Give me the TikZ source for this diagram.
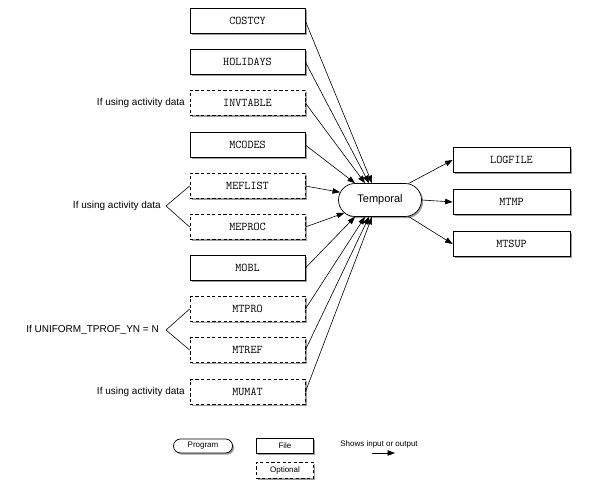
\documentclass[tikz,border=0pt]{standalone}
\usepackage{fontspec}
\setmainfont{Liberation Sans}
\usetikzlibrary{arrows.meta,shadows,shapes.misc}
\begin{document}
\begin{tikzpicture}[x=1pt,y=-1pt,
  shad/.style={drop shadow={shadow xshift=1.6pt,shadow yshift=-1.6pt,opacity=0.55,fill=black!70}},
  filebox/.style={draw,line width=0.7pt,fill=white,shad,minimum width=115pt,minimum height=25pt,inner sep=0pt,
    font=\ttfamily\fontsize{11.8}{13}\selectfont},
  outbox/.style={filebox,minimum width=117pt},
  optbox/.style={filebox,dash pattern=on 3.2pt off 2.4pt},
  prog/.style={draw,line width=0.7pt,fill=white,shad,rounded rectangle,minimum width=83pt,minimum height=33pt,inner sep=0pt,
    font=\fontsize{11}{13}\selectfont},
  lab/.style={anchor=east,inner sep=0pt,font=\fontsize{10}{12}\selectfont},
  leg/.style={font=\fontsize{8}{10}\selectfont},
  flow/.style={line width=0.6pt,-{Triangle[length=7.5pt,width=5.5pt]}},
  brk/.style={line width=0.6pt}
]
\useasboundingbox (0,0) rectangle (594,486);

% inputs
\node[filebox] (c1) at (247.5,21) {COSTCY};
\node[filebox] (c2) at (247.5,62) {HOLIDAYS};
\node[optbox]  (c3) at (247.5,103) {INVTABLE};
\node[filebox] (c4) at (247.5,145) {MCODES};
\node[optbox]  (c5) at (247.5,186) {MEFLIST};
\node[optbox]  (c6) at (247.5,227) {MEPROC};
\node[filebox] (c7) at (247.5,268) {MOBL};
\node[optbox]  (c8) at (247.5,309) {MTPRO};
\node[optbox]  (c9) at (247.5,350) {MTREF};
\node[optbox]  (c10) at (247.5,392) {MUMAT};

% program
\node[prog] (T) at (380,200) {Temporal};

% outputs
\node[outbox] (o1) at (511.5,160) {LOGFILE};
\node[outbox] (o2) at (511.5,202) {MTMP};
\node[outbox] (o3) at (511.5,244) {MTSUP};

% labels
\node[lab] (l1) at (185,103) {If using activity data};
\node[lab] (l2) at (161,206) {If using activity data};
\node[lab] (l3) at (159,330) {If UNIFORM\_TPROF\_YN = N};
\node[lab] (l4) at (185,392) {If using activity data};
\coordinate (a2) at (166,206);
\coordinate (a3) at (166,330);
\draw[brk] (c5.west) -- (a2) -- (c6.west);
\draw[brk] (c8.west) -- (a3) -- (c9.west);

% input arrows
\draw[flow] (c1.east) -- ([xshift=-8pt]T.north);
\draw[flow] (c2.east) -- ([xshift=-11pt]T.north);
\draw[flow] (c3.east) -- ([xshift=-15pt]T.north);
\draw[flow] (c4.east) -- ([xshift=-25pt]T.north);
\draw[flow] (c5.east) -- (T.169);
\draw[flow] (c6.east) -- (T.200);
\draw[flow] (c7.east) -- ([xshift=-25pt]T.south);
\draw[flow] (c8.east) -- ([xshift=-15pt]T.south);
\draw[flow] (c9.east) -- ([xshift=-11pt]T.south);
\draw[flow] (c10.east) -- ([xshift=-8pt]T.south);

% output arrows
\draw[flow] (T.30) -- (o1.west);
\draw[flow] (T.east) -- (o2.west);
\draw[flow] (T.-30) -- (o3.west);

% legend
\node[prog,leg,minimum width=59pt,minimum height=14pt] (lp) at (203,446) {Program};
\node[filebox,leg,minimum width=57pt,minimum height=15pt] (lf) at (285,445.5) {File};
\node[optbox,leg,minimum width=57pt,minimum height=16pt] (lo) at (285,470) {Optional};
\node[leg,inner sep=0pt] (ls) at (379,444) {Shows input or output};
\coordinate (la) at (372,453);
\coordinate (lb) at (395,453);
\draw[flow] (la) -- (lb);
\end{tikzpicture}
\end{document}
